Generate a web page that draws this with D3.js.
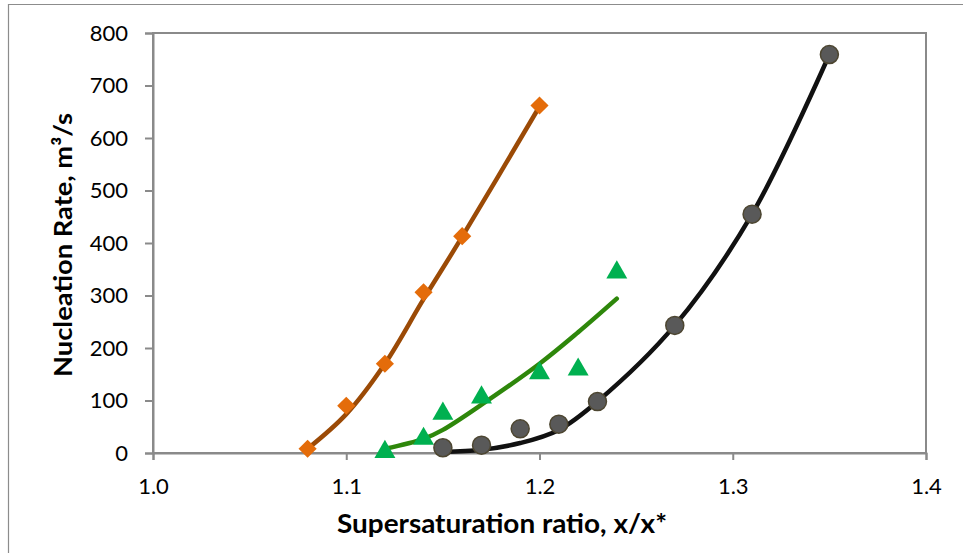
<!DOCTYPE html>
<html>
<head>
<meta charset="utf-8">
<script src="https://cdn.jsdelivr.net/npm/d3@7"></script>
<style>
  body { margin: 0; background: #fff; }
  text { font-family: Lato, "Open Sans", sans-serif; }
</style>
</head>
<body>
<div id="chart"></div>
<script>
// measured points (markers) and the fitted curves drawn through them
var orangeX = [1.08, 1.10, 1.12, 1.14, 1.16, 1.20];
var orangeY = [8, 90, 170, 306, 413, 662];
var orangeFitY = [8, 74, 170, 293, 412, 660];

var greenX = [1.12, 1.14, 1.15, 1.17, 1.20, 1.22, 1.24];
var greenY = [2, 27, 75, 106, 152, 159, 344];
var greenFitX = [1.12, 1.14, 1.15, 1.17, 1.20, 1.22, 1.24];
var greenFitY = [8, 27, 44, 92, 170, 230, 294];

var blackX = [1.15, 1.17, 1.19, 1.21, 1.23, 1.27, 1.31, 1.35];
var blackY = [10, 15, 46, 55, 98, 243, 455, 759];
var blackFitY = [2, 6, 19, 44, 98, 243, 455, 759];

var xTicks = [1.0, 1.1, 1.2, 1.3, 1.4];
var yTicks = [0, 100, 200, 300, 400, 500, 600, 700, 800];

var W = 963, H = 553;
var margin = {top: 33, right: 37, bottom: 100, left: 153},
    width = W - margin.left - margin.right,
    height = H - margin.top - margin.bottom;

var svg = d3.select("#chart").append("svg")
    .attr("width", W).attr("height", H);

// outer chart frame (left + top visible)
svg.append("path")
    .attr("d", "M8.5," + H + "V4.5H" + W)
    .attr("fill", "none").attr("stroke", "#8c8c8c").attr("stroke-width", 1.2);

var g = svg.append("g")
    .attr("transform", "translate(" + margin.left + "," + margin.top + ")");

var x = d3.scaleLinear().domain([1.0, 1.4]).range([0, width]);
var y = d3.scaleLinear().domain([0, 800]).range([height, 0]);

// plot area border
g.append("rect")
    .attr("x", 0).attr("y", 0).attr("width", width).attr("height", height)
    .attr("fill", "none").attr("stroke", "#8a8a8a").attr("stroke-width", 2);

var xAxis = g.append("g")
    .attr("transform", "translate(0," + height + ")")
    .call(d3.axisBottom(x).tickValues(xTicks).tickFormat(d3.format(".1f")).tickSize(7).tickPadding(18));
var yAxis = g.append("g")
    .call(d3.axisLeft(y).tickValues(yTicks).tickSize(8).tickPadding(17));

[xAxis, yAxis].forEach(function (a) {
    a.select(".domain").attr("stroke", "#8a8a8a").attr("stroke-width", 2);
    a.selectAll(".tick line").attr("stroke", "#8a8a8a").attr("stroke-width", 2);
    a.selectAll(".tick text").attr("fill", "#000").style("font-size", "22px")
        .style("font-family", "Lato, 'Open Sans', sans-serif");
});

// axis titles
svg.append("text")
    .attr("x", 502).attr("y", 533)
    .attr("text-anchor", "middle")
    .attr("textLength", 330).attr("lengthAdjust", "spacingAndGlyphs")
    .style("font-size", "27px").style("font-weight", "bold")
    .text("Supersaturation ratio, x/x*");

svg.append("text")
    .attr("transform", "translate(72,245) rotate(-90)")
    .attr("text-anchor", "middle")
    .attr("textLength", 264).attr("lengthAdjust", "spacingAndGlyphs")
    .style("font-size", "25px").style("font-weight", "bold")
    .text("Nucleation Rate, m³/s");

var line = d3.line()
    .x(function (d) { return x(d[0]); })
    .y(function (d) { return y(d[1]); })
    .curve(d3.curveCatmullRom.alpha(0.5));

function zip(a, b) { return a.map(function (v, i) { return [v, b[i]]; }); }

// orange series
g.append("path").datum(zip(orangeX, orangeFitY))
    .attr("fill", "none").attr("stroke", "#9b4a06").attr("stroke-width", 4.5)
    .attr("d", line);
g.selectAll(".dia").data(zip(orangeX, orangeY)).enter().append("path")
    .attr("transform", function (d) { return "translate(" + x(d[0]) + "," + y(d[1]) + ")"; })
    .attr("d", d3.symbol().type(d3.symbolDiamond2).size(210))
    .attr("fill", "#e46c0a");

// green series
g.append("path").datum(zip(greenFitX, greenFitY))
    .attr("fill", "none").attr("stroke", "#2e870b").attr("stroke-width", 4.5)
    .attr("stroke-linecap", "round")
    .attr("d", line);
g.selectAll(".tri").data(zip(greenX, greenY)).enter().append("path")
    .attr("transform", function (d) { return "translate(" + x(d[0]) + "," + y(d[1]) + ")"; })
    .attr("d", d3.symbol().type(d3.symbolTriangle).size(190))
    .attr("fill", "#00b050");

// black series
g.append("path").datum(zip(blackX, blackFitY))
    .attr("fill", "none").attr("stroke", "#111").attr("stroke-width", 4.5)
    .attr("d", line);
g.selectAll(".dot").data(zip(blackX, blackY)).enter().append("circle")
    .attr("cx", function (d) { return x(d[0]); })
    .attr("cy", function (d) { return y(d[1]); })
    .attr("r", 9)
    .attr("fill", "#595959").attr("stroke", "#4d4631").attr("stroke-width", 1.5);
</script>
</body>
</html>
